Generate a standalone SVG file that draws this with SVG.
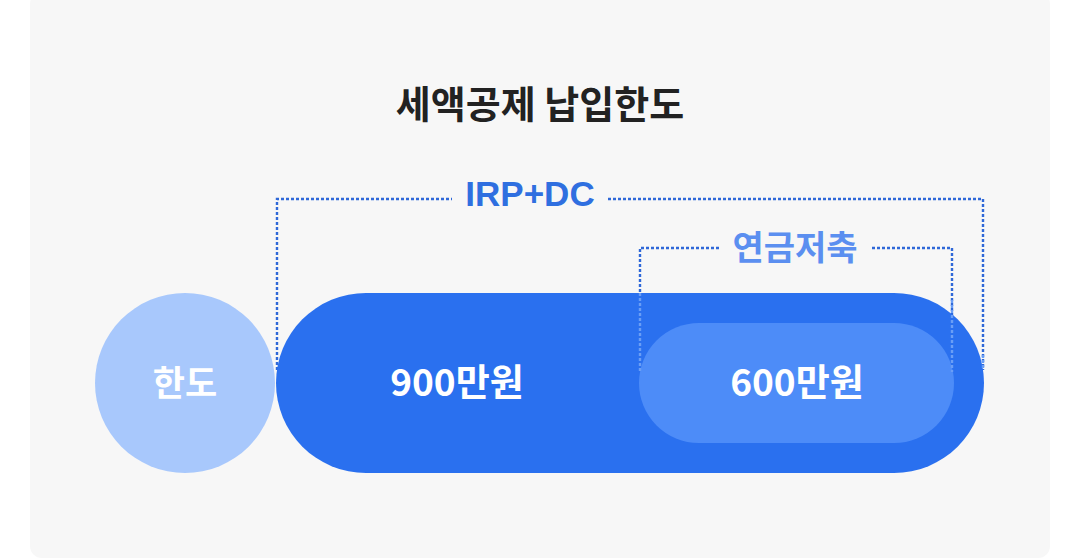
<svg xmlns="http://www.w3.org/2000/svg" width="1078" height="559" viewBox="0 0 1078 559">
<style>
.kr{font-family:"Noto Sans CJK KR","Noto Sans",sans-serif;font-weight:700;text-anchor:middle}
.dash{fill:none;stroke:#2f68d8;stroke-width:2.4;stroke-dasharray:3 2}
.dash2{fill:none;stroke:#6a9ef6;stroke-width:2.4;stroke-dasharray:3 2}
</style>
<rect x="0" y="0" width="1078" height="559" fill="#ffffff"/>
<rect x="30" y="-8" width="1020" height="566" rx="12" fill="#f7f7f7"/>
<text class="kr" x="540" y="118" font-size="38" fill="#222222">세액공제 납입한도</text>
<g id="connectors">
<path class="dash" d="M277 370 V199 H452 M608 199 H983 V370"/>
<path class="dash" d="M640 372 V248 H720 M872 248 H952 V372"/>
</g>
<g id="limit">
<circle cx="185" cy="383" r="90" fill="#a8c8fc"/>
<text class="kr" x="185" y="396" font-size="35" fill="#ffffff">한도</text>
</g>
<g id="irp-dc">
<rect x="276" y="293" width="708" height="180" rx="90" fill="#2a70ef"/>
<text class="kr" x="457" y="396" font-size="37" fill="#ffffff">900만원</text>
</g>
<g id="pension">
<rect x="639" y="323" width="315" height="120" rx="60" fill="#4d8cf8"/>
<text class="kr" x="797" y="396" font-size="37" fill="#ffffff">600만원</text>
</g>
<g id="connector-overlay">
<path class="dash2" d="M640 293 V372 M952 300 V372 M983 355 V370"/>
</g>
<text x="530" y="206" font-family="Liberation Sans, Arial, sans-serif" font-weight="700" font-size="35" text-anchor="middle" fill="#2f6fe0">IRP+DC</text>
<text class="kr" x="795" y="260" font-size="34" fill="#5b8ff0">연금저축</text>
</svg>
